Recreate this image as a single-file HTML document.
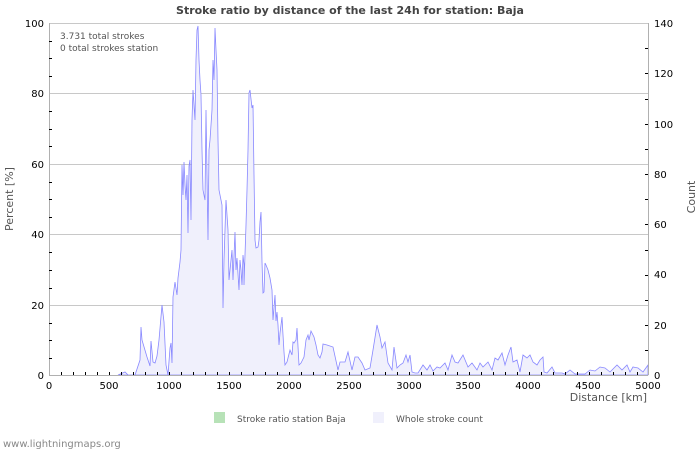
<!DOCTYPE html>
<html><head><style>
body{margin:0;background:#fff;}
svg text{font-family:"DejaVu Sans","Liberation Sans",sans-serif;}
</style></head><body>
<svg width="700" height="450" xmlns="http://www.w3.org/2000/svg">
<rect width="700" height="450" fill="#fff"/>
<text x="350" y="14" text-anchor="middle" font-size="11" font-weight="bold" fill="#444">Stroke ratio by distance of the last 24h for station: Baja</text>
<g stroke="#c8c8c8" stroke-width="1">
<line x1="49" y1="23.5" x2="648" y2="23.5"/>
<line x1="49" y1="93.5" x2="648" y2="93.5"/>
<line x1="49" y1="164.5" x2="648" y2="164.5"/>
<line x1="49" y1="234.5" x2="648" y2="234.5"/>
<line x1="49" y1="305.5" x2="648" y2="305.5"/>
</g>
<polygon fill="#f0f0fc" stroke="#8888ff" stroke-width="0.8" points="118,375 125,372 128,375 135,375 140,360 141,327 142,340 147,357 150,366 151,341 153,362 155,363 157,356 159,340 162,305 164,322 166,365 168,375 170,348 171,343 172,363 173,297 175,282 177,295 178,278 180,262 181,250 182,165 183,195 184,162 185,185 186,200 187,175 188,233 189,166 190,160 191,220 192,120 193,90 195,120 196,60 197,30 198,26 199,60 200,80 201,95 202,150 203,190 205,200 206,110 207,175 208,240 209,150 210,140 212,110 213,60 214,80 215,28 216,50 217,70 218,140 219,190 222,205 223,308 224,260 226,200 228,230 229,280 231,260 232,250 233,280 235,232 236,270 237,258 239,290 240,260 241,270 242,285 243,255 244,265 244,285 246,225 247,190 248,150 249,93 250,90 252,108 253,105 254,175 255,240 256,248 258,247 259,240 260,222 261,212 262,262 263,293 264,292 265,263 266,265 268,270 270,278 272,290 273,320 275,295 276,321 277,312 278,325 279,345 280,333 282,317 283,335 284,352 285,365 287,362 288,358 290,350 292,355 293,342 294,343 296,340 297,328 299,365 301,363 304,357 306,340 308,335 309,340 311,331 314,337 316,345 318,355 320,358 322,352 323,344 327,345 333,347 338,370 340,362 345,362 348,352 352,370 355,357 358,357 362,363 365,370 370,368 373,350 377,325 380,337 382,348 385,342 388,363 392,370 394,347 397,368 400,365 403,363 406,355 408,362 410,355 412,372 415,373 418,373 423,365 427,370 430,365 433,371 437,367 440,368 445,363 448,370 452,355 455,362 458,363 463,355 468,367 472,363 477,370 480,363 483,367 488,362 492,370 495,358 498,360 502,353 505,365 508,355 511,347 513,362 517,360 520,372 523,355 527,358 530,355 533,362 537,365 540,360 543,357 544,372 547,373 552,367 555,373 562,373 565,374 570,370 575,374 585,374 590,370 595,371 600,367 605,368 610,372 617,365 622,370 627,365 630,372 633,367 638,368 643,372 648,365 648,375"/>
<g stroke="#b0b0b0" stroke-width="1">
<line x1="49.5" y1="23" x2="49.5" y2="375"/>
<line x1="648.5" y1="23" x2="648.5" y2="375"/>
<line x1="49" y1="375.5" x2="648" y2="375.5"/>
</g>
<g stroke="#000" stroke-width="1" id="xt"></g>
<g stroke="#000" stroke-width="1">
<path d="M61.5,375v-3M73.5,375v-3M85.5,375v-3M97.5,375v-3M109.5,375v-3M121.5,375v-3M133.5,375v-3M145.5,375v-3M157.5,375v-3M169.5,375v-3M181.5,375v-3M193.5,375v-3M205.5,375v-3M217.5,375v-3M229.5,375v-3M241.5,375v-3M253.5,375v-3M265.5,375v-3M277.5,375v-3M289.5,375v-3M301.5,375v-3M313.5,375v-3M325.5,375v-3M337.5,375v-3M349.5,375v-3M361.5,375v-3M373.5,375v-3M385.5,375v-3M397.5,375v-3M409.5,375v-3M421.5,375v-3M433.5,375v-3M445.5,375v-3M457.5,375v-3M469.5,375v-3M481.5,375v-3M493.5,375v-3M505.5,375v-3M517.5,375v-3M529.5,375v-3M541.5,375v-3M553.5,375v-3M565.5,375v-3M577.5,375v-3M589.5,375v-3M601.5,375v-3M613.5,375v-3M625.5,375v-3M637.5,375v-3"/>
<path d="M49,358.5h3M49,340.5h3M49,323.5h3M49,288.5h3M49,270.5h3M49,252.5h3M49,217.5h3M49,199.5h3M49,182.5h3M49,146.5h3M49,129.5h3M49,111.5h3M49,76.5h3M49,58.5h3M49,41.5h3"/>
<path d="M648,350.5h-3M648,325.5h-3M648,300.5h-3M648,275.5h-3M648,250.5h-3M648,224.5h-3M648,199.5h-3M648,174.5h-3M648,149.5h-3M648,124.5h-3M648,99.5h-3M648,73.5h-3M648,48.5h-3"/>
</g>
<g font-size="10" fill="#000" text-anchor="middle">
<text x="49" y="389">0</text><text x="109" y="389">500</text><text x="169" y="389">1000</text><text x="229" y="389">1500</text><text x="289" y="389">2000</text><text x="349" y="389">2500</text><text x="409" y="389">3000</text><text x="468" y="389">3500</text><text x="528" y="389">4000</text><text x="588" y="389">4500</text><text x="648" y="389">5000</text>
</g>
<g font-size="10" fill="#000" text-anchor="end">
<text x="44" y="379">0</text><text x="44" y="309">20</text><text x="44" y="238">40</text><text x="44" y="168">60</text><text x="44" y="97">80</text><text x="44" y="27">100</text>
</g>
<g font-size="10" fill="#000" text-anchor="start">
<text x="654" y="379">0</text><text x="654" y="329">20</text><text x="654" y="278">40</text><text x="654" y="228">60</text><text x="654" y="178">80</text><text x="654" y="128">100</text><text x="654" y="77">120</text><text x="654" y="27">140</text>
</g>
<text x="647" y="401" font-size="11" fill="#555" text-anchor="end">Distance   [km]</text>
<text transform="translate(13,199) rotate(-90)" font-size="11" fill="#555" text-anchor="middle">Percent   [%]</text>
<text transform="translate(695,197) rotate(-90)" font-size="11" fill="#555" text-anchor="middle">Count</text>
<text x="60" y="39" font-size="9" fill="#555">3.731 total strokes</text>
<text x="60" y="51" font-size="9" fill="#555">0 total strokes station</text>
<rect x="214" y="412" width="11" height="11" fill="#b7e2b7"/>
<text x="237" y="422" font-size="9" fill="#555">Stroke ratio station Baja</text>
<rect x="373" y="412" width="11" height="11" fill="#f0f0fc"/>
<text x="396" y="422" font-size="9" fill="#555">Whole stroke count</text>
<text x="3" y="447" font-size="10" fill="#888">www.lightningmaps.org</text>
</svg>
</body></html>
